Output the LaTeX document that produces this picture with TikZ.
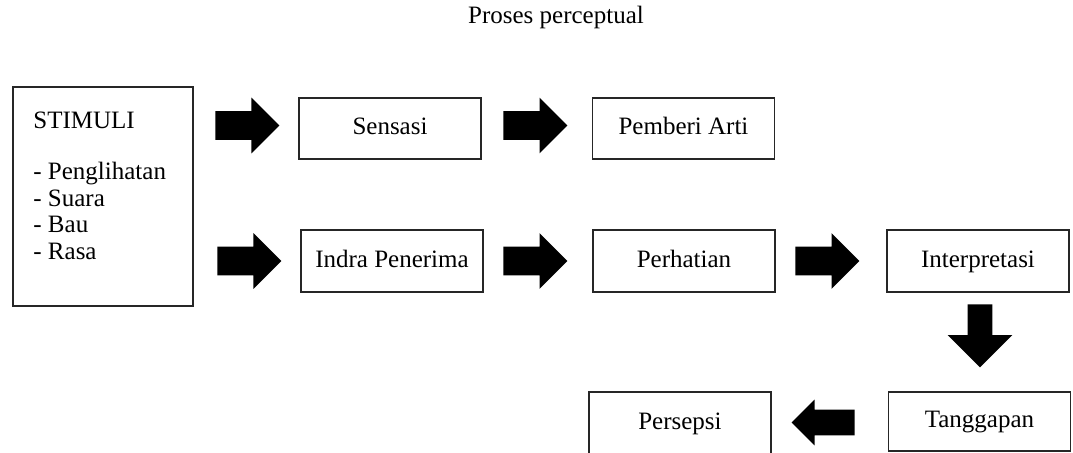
\documentclass[tikz,border=0pt]{standalone}
\usepackage{fontspec}
\setmainfont{Liberation Serif}
\usetikzlibrary{shapes.arrows}

\begin{document}
\begin{tikzpicture}[
    x=0.5pt, y=-0.5pt,
    font=\fontsize{12.5}{13.3}\selectfont,
    every node/.style={align=center},
    box/.style={draw=black!85, line width=0.6pt, minimum width=91pt, minimum height=30.5pt,
        inner sep=0pt, text height=8.5pt, text depth=2.5pt},
    fatarrow/.style={single arrow, fill=black, draw=none, anchor=tail, inner xsep=0pt, inner ysep=7pt,
        minimum height=32pt, minimum width=27.5pt, single arrow head extend=6.75pt},
]
\useasboundingbox (0,0) rectangle (1073,452);

% --- Title
\node (title) at (556,17) {Proses perceptual};

% --- Stimuli box on the left
\node[box, minimum height=109.5pt, minimum width=90pt] (stimuli) at (103,196.5) {};
\node[anchor=north west, inner sep=0pt, align=left] (stimtext) at (33,112)
    {STIMULI\\[12pt]- Penglihatan\\- Suara\\- Bau\\- Rasa};

% --- Row 1
\node[box] (sensasi) at (390,128.5)   {Sensasi};
\node[box] (arti)    at (683.5,128.5) {Pemberi Arti};

% --- Row 2
\node[box, minimum height=31pt] (indra)     at (392,261) {Indra Penerima};
\node[box, minimum height=31pt] (perhatian) at (684,261) {Perhatian};
\node[box, minimum height=31pt] (interp)    at (978,261) {Interpretasi};

% --- Row 3
\node[box, minimum height=29.5pt] (tanggap)  at (979.5,421.5) {Tanggapan};
\node[box, minimum height=31pt]   (persepsi) at (680,423)     {Persepsi};

% --- Block arrows (placed by their tails)
\node[fatarrow] (ar1) at (215,125.5) {};
\node[fatarrow] (ar2) at (503,125.5) {};
\node[fatarrow] (ar3) at (217,261) {};
\node[fatarrow] (ar4) at (503,261) {};
\node[fatarrow] (ar5) at (795,261) {};
\node[fatarrow, rotate=-90, minimum height=31.5pt, minimum width=32pt, inner ysep=6pt,
      single arrow head extend=10pt] (ar6) at (980,304) {};
\node[fatarrow, rotate=180, minimum height=31.5pt, minimum width=22.5pt, inner ysep=6.25pt,
      single arrow head extend=5pt] (ar7) at (855,422.5) {};

\end{tikzpicture}
\end{document}
